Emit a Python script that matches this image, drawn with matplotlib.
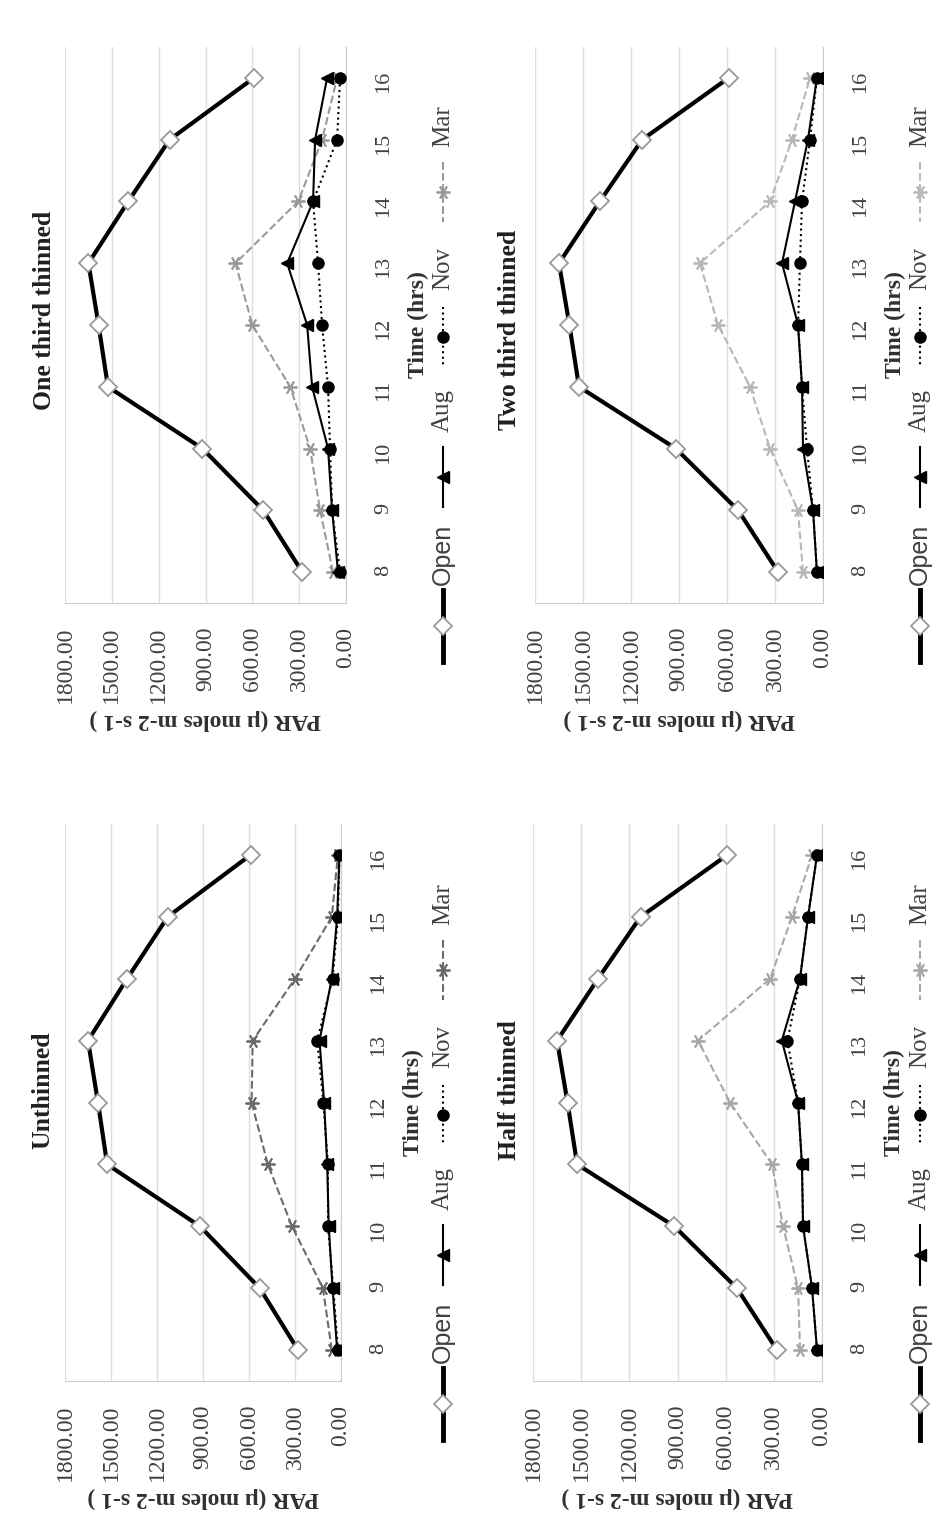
import matplotlib
matplotlib.use("Agg")
import matplotlib.pyplot as plt
from matplotlib.lines import Line2D

plt.rcParams['font.family'] = ['Liberation Serif', 'DejaVu Serif']

W, H = 943, 1525

# ---- data (PAR, u moles m-2 s-1) ----
hours = [8, 9, 10, 11, 12, 13, 14, 15, 16]
par_ticks = [0, 300, 600, 900, 1200, 1500, 1800]
open_par = [280, 530, 920, 1525, 1585, 1650, 1395, 1130, 590]

aug_un = [25, 55, 80, 90, 110, 140, 60, 25, 10]
nov_un = [20, 50, 85, 85, 115, 155, 55, 20, 10]
mar_un = [60, 118, 320, 477, 583, 576, 300, 60, 20]

aug_third = [51, 89, 115, 217, 249, 377, 211, 198, 121]
nov_third = [38, 89, 102, 115, 153, 179, 211, 57, 38]
mar_third = [83, 166, 230, 357, 600, 708, 306, 153, 57]

aug_half = [31, 62, 118, 125, 149, 250, 137, 87, 31]
nov_half = [31, 62, 118, 125, 149, 215, 137, 87, 31]
mar_half = [137, 149, 243, 311, 573, 772, 323, 187, 62]

aug_two = [38, 62, 125, 131, 156, 256, 175, 94, 38]
nov_two = [38, 62, 100, 131, 156, 144, 131, 81, 38]
mar_two = [125, 156, 331, 456, 656, 769, 331, 194, 81]

ASTER = (6, 2, 90)

# panel: title, aug, nov, mar, mar colour, box (left, right, top, bottom px), title pos, legend x, legend shift
panels = [
    ("Unthinned", aug_un, nov_un, mar_un, '#6a6a6a', (65, 341, 824, 1381), (43, 1090), 443, 0),
    ("One third thinned", aug_third, nov_third, mar_third, '#9a9a9a', (65, 346, 47, 603), (45, 310), 443, -778),
    ("Half thinned", aug_half, nov_half, mar_half, '#a8a8a8', (533, 822, 824, 1381), (510, 1090), 920, 0),
    ("Two third thinned", aug_two, nov_two, mar_two, '#b8b8b8', (535, 823, 47, 603), (510, 330), 920, -778),
]

fig = plt.figure(figsize=(W / 100, H / 100), dpi=100)


def px(x, y):
    return x / W, 1 - y / H


def draw_legend(x, dy, mar_color):
    items = [
        ("Open", (1368, 1440), 1332, dict(color='black', lw=3.5, ls='-'),
         dict(marker='D', ms=9, mfc='white', mec='#999999', mew=1.3), 'Liberation Sans'),
        ("Aug", (1225, 1285), 1188, dict(color='black', lw=1.5, ls='-'),
         dict(marker='<', ms=8, mfc='black', mec='black'), 'Liberation Serif'),
        ("Nov", (1085, 1145), 1046, dict(color='black', lw=1.5, ls=':'),
         dict(marker='o', ms=8, mfc='black', mec='black'), 'Liberation Serif'),
        ("Mar", (940, 1000), 904, dict(color=mar_color, lw=1.5, ls='--'),
         dict(marker=ASTER, ms=10, mec=mar_color, mew=1.3), 'Liberation Serif'),
    ]
    for name, (y0, y1), ty, lstyle, mstyle, fam in items:
        xa, ya = px(x, y0 + dy)
        xb, yb = px(x, y1 + dy)
        fig.add_artist(Line2D([xa, xb], [ya, yb], transform=fig.transFigure, **lstyle))
        xm, ym = px(x, (y0 + y1) / 2 + dy)
        fig.add_artist(Line2D([xm], [ym], transform=fig.transFigure, ls='none', **mstyle))
        xt, yt = px(x, ty + dy)
        fig.text(xt, yt, name, rotation=90, ha='center', va='center', fontsize=18,
                 color='#404040', family=fam)


for title, aug, nov, mar, mcol, box, tpos, lx, ldy in panels:
    left, right, top, bottom = box
    ax = fig.add_axes([left / W, 1 - bottom / H, (right - left) / W, (bottom - top) / H])

    ax.plot(open_par, hours, color='black', lw=3, marker='D', ms=9,
            mfc='white', mec='#999999', mew=1.3, zorder=3)
    ax.plot(mar, hours, color=mcol, lw=1.5, ls='--', marker=ASTER, ms=10,
            mec=mcol, mew=1.3, zorder=2)
    ax.plot(aug, hours, color='black', lw=1.5, marker='<', ms=8, zorder=4)
    ax.plot(nov, hours, color='black', lw=1.5, ls=':', marker='o', ms=8, zorder=4)

    ax.set_xlim(1800, 0)
    ax.set_ylim(7.5, 16.5)
    ax.set_xticks(par_ticks)
    ax.set_xticklabels([f"{v:.2f}" for v in par_ticks])
    ax.set_yticks(hours)
    ax.yaxis.tick_right()
    ax.tick_params(axis='x', labelrotation=90, length=0, pad=17, labelsize=17, labelcolor='#404040')
    ax.tick_params(axis='y', labelrotation=90, length=0, pad=20, labelsize=16, labelcolor='#404040')
    ax.grid(axis='x', color='#dddddd', lw=1)
    ax.set_axisbelow(True)
    for s in ['top', 'left']:
        ax.spines[s].set_visible(False)
    for s in ['bottom', 'right']:
        ax.spines[s].set_color('#cccccc')

    ax.set_xlabel("PAR (\u03bc moles m-2 s-1 )", rotation=180, fontsize=17,
                  fontweight='bold', color='#303030', labelpad=4)
    ax.yaxis.set_label_position('right')
    ax.set_ylabel("Time (hrs)", rotation=90, fontsize=17, fontweight='bold',
                  color='#303030', labelpad=11)

    tx, ty = px(*tpos)
    fig.text(tx, ty, title, rotation=90, ha='center', va='center', fontsize=18.5,
             fontweight='bold', color='#202020')

    draw_legend(lx, ldy, mcol)

fig.savefig("out.png", dpi=100)
